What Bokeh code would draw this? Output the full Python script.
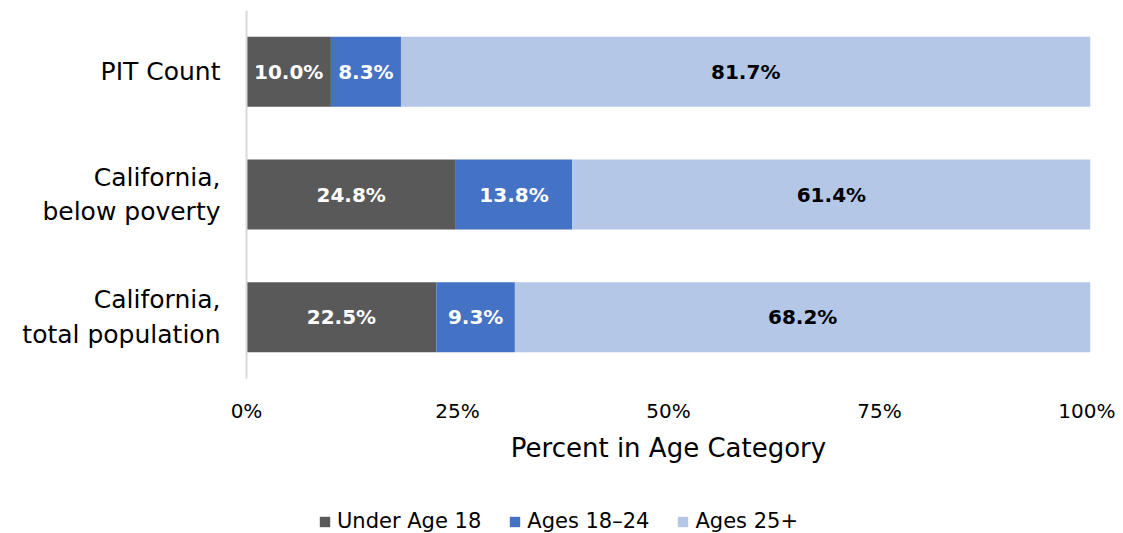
from bokeh.plotting import figure
from bokeh.layouts import column
from bokeh.models import (ColumnDataSource, FactorRange, Range1d, FixedTicker,
                          NumeralTickFormatter, Legend, LegendItem)
from bokeh.core.properties import value
from bokeh.embed import file_html
from bokeh.resources import INLINE

# ---- data ----
categories = ["California,\ntotal population", "California,\nbelow poverty", "PIT Count"]
under_18 = [22.5, 24.8, 10.0]
ages_18_24 = [9.3, 13.8, 8.3]
ages_25_plus = [68.2, 61.4, 81.7]
series_names = ["Under Age 18", "Ages 18\u201324", "Ages 25+"]
colors = ["#595959", "#4472C4", "#B4C7E7"]
label_colors = ["white", "white", "black"]
x_ticks = [0, 25, 50, 75, 100]

FONT = "DejaVu Sans"

u = [v / 100 for v in under_18]
m = [v / 100 for v in ages_18_24]
a = [v / 100 for v in ages_25_plus]
source = ColumnDataSource(dict(cat=categories, u=u, m=m, a=a))

p = figure(width=1115, height=465, y_range=FactorRange(*categories, range_padding=0),
           x_range=Range1d(0, 1), output_backend="svg", toolbar_location=None,
           min_border_left=246, min_border_right=25, min_border_top=10, min_border_bottom=0)

renderers = p.hbar_stack(["u", "m", "a"], y="cat", height=0.57, color=colors,
                         line_color=None, source=source)

# data labels
series = [u, m, a]
starts = [0.0] * len(categories)
for vals, raw, col in zip(series, [under_18, ages_18_24, ages_25_plus], label_colors):
    xs = [s + v / 2 for s, v in zip(starts, vals)]
    txt = ["%.1f%%" % r for r in raw]
    p.text(x=xs, y=categories, text=txt, text_align="center", text_baseline="middle",
           text_color=col, text_font=value(FONT), text_font_style="bold",
           text_font_size="20px")
    starts = [s + v for s, v in zip(starts, vals)]

# axes
p.xgrid.visible = False
p.ygrid.visible = False
p.outline_line_color = None

xa = p.xaxis[0]
xa.ticker = FixedTicker(ticks=[t / 100 for t in x_ticks])
xa.formatter = NumeralTickFormatter(format="0%")
xa.axis_line_color = None
xa.major_tick_line_color = None
xa.minor_tick_line_color = None
xa.major_label_text_font = FONT
xa.major_label_text_font_size = "20px"
xa.major_label_text_color = "black"
xa.major_label_standoff = 14
xa.axis_label = "Percent in Age Category"
xa.axis_label_text_font = FONT
xa.axis_label_text_font_size = "26px"
xa.axis_label_text_font_style = "normal"
xa.axis_label_text_color = "black"
xa.axis_label_standoff = 7

ya = p.yaxis[0]
ya.axis_line_color = "#D9D9D9"
ya.axis_line_width = 2
ya.major_tick_line_color = None
ya.minor_tick_line_color = None
ya.major_label_text_font = FONT
ya.major_label_text_font_size = "25px"
ya.major_label_text_color = "black"
ya.major_label_standoff = 20

# legend in its own strip below the chart
q = figure(width=1115, height=68, x_range=Range1d(0, 1), y_range=Range1d(0, 1),
           output_backend="svg", toolbar_location=None,
           min_border_left=0, min_border_right=0, min_border_top=0, min_border_bottom=0)
q.xaxis.visible = False
q.yaxis.visible = False
q.xgrid.visible = False
q.ygrid.visible = False
q.outline_line_color = None
leg_renderers = [q.hbar(y=[0.5], left=[0], right=[0], height=0, color=c, line_color=None)
                 for c in colors]

legend = Legend(items=[LegendItem(label=n, renderers=[r]) for n, r in zip(series_names, leg_renderers)],
                orientation="horizontal", location=(72, 0),
                label_text_font=FONT, label_text_font_size="21px", label_text_color="black",
                glyph_width=13, glyph_height=13, label_standoff=6, spacing=27,
                border_line_color=None, background_fill_alpha=0, padding=0, margin=0)
q.add_layout(legend, "center")

layout = column(p, q, spacing=0)
open("out.html", "w").write(file_html(layout, INLINE))
